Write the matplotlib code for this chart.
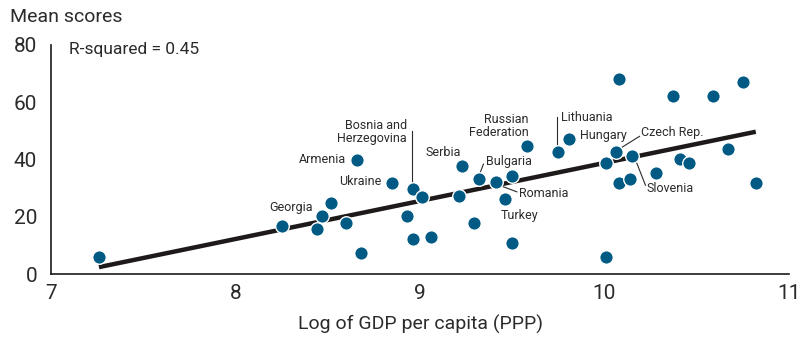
import matplotlib
matplotlib.use("Agg")
import matplotlib.pyplot as plt

# log GDP per capita (PPP) vs mean score, one point per country
gdp_log = [7.26, 8.25, 8.44, 8.47, 8.52, 8.60, 8.68, 8.66, 8.85, 8.96,
           9.01, 8.93, 8.96, 9.06, 9.23, 9.21, 9.29, 9.32, 9.41, 9.50,
           9.46, 9.50, 9.58, 9.75, 9.81, 10.08, 10.37, 10.59, 10.75, 10.06,
           10.01, 10.15, 10.08, 10.14, 10.28, 10.41, 10.46, 10.67, 10.82, 10.01]
scores = [6.1, 16.6, 15.6, 20.1, 24.7, 17.9, 7.2, 39.9, 31.9, 29.6,
          27.0, 20.1, 12.1, 13.1, 37.8, 27.1, 17.8, 33.1, 32.0, 34.3,
          26.1, 10.8, 44.8, 42.5, 47.1, 68.1, 62.3, 62.3, 67.0, 42.5,
          38.9, 41.3, 31.9, 33.1, 35.4, 40.1, 38.9, 43.6, 31.9, 6.0]

# fitted trend line end points
fit_x = [7.26, 10.82]
fit_y = [2.4, 49.7]
r_squared = 0.45

ink = "#2b2b2b"
dot = "#005a83"

# country labels: text, position, alignment
labels = [
    ("Georgia", 8.42, 23.4, "right"),
    ("Armenia", 8.60, 40.0, "right"),
    ("Ukraine", 8.79, 32.3, "right"),
    ("Bosnia and\nHerzegovina", 8.93, 49.7, "right"),
    ("Serbia", 9.22, 42.5, "right"),
    ("Bulgaria", 9.36, 39.3, "left"),
    ("Russian\nFederation", 9.59, 51.7, "right"),
    ("Lithuania", 9.765, 54.5, "left"),
    ("Hungary", 9.865, 48.5, "left"),
    ("Czech Rep.", 10.20, 49.5, "left"),
    ("Slovenia", 10.225, 29.8, "left"),
    ("Romania", 9.535, 28.1, "left"),
    ("Turkey", 9.44, 20.6, "left"),
]
# leader lines from label to dot
leaders = [
    ((8.957, 8.957), (49.8, 30.6)),
    ((9.344, 9.321), (38.4, 34.5)),
    ((9.745, 9.745), (54.8, 42.9)),
    ((10.063, 10.190), (43.0, 48.1)),
    ((10.163, 10.222), (40.7, 31.0)),
    ((9.417, 9.525), (31.3, 28.7)),
]

plt.rcParams["font.family"] = ["Roboto", "DejaVu Sans"]

fig = plt.figure(figsize=(8.06, 3.39), dpi=100)
ax = fig.add_axes([51 / 806, 65 / 339, (789 - 51) / 806, (274 - 45) / 339])

ax.plot(fit_x, fit_y, color="#1e1a1a", linewidth=3.2, solid_capstyle="butt", zorder=2)
ax.scatter(gdp_log, scores, s=95, color=dot, edgecolors="white", linewidths=1.0, zorder=3)

for xs, ys in leaders:
    ax.plot(xs, ys, color=ink, linewidth=0.8, zorder=2)

for text, lx, ly, ha in labels:
    ax.text(lx, ly, text, ha=ha, va="center", multialignment=ha,
            fontsize=9, color=ink, linespacing=1.0, zorder=4)

ax.text(7.1, 78.5, f"R-squared = {r_squared:.2f}", ha="left", va="center",
        fontsize=12.5, color=ink)

ax.set_xlim(7, 11)
ax.set_ylim(0, 80)
ax.set_xticks([7, 8, 9, 10, 11])
ax.set_yticks([0, 20, 40, 60, 80])
ax.tick_params(length=0, labelsize=15, colors=ink, pad=7)
ax.tick_params(axis="y", pad=10)
for side in ("top", "right"):
    ax.spines[side].set_visible(False)
for side in ("left", "bottom"):
    ax.spines[side].set_color("#1e1a1a")
    ax.spines[side].set_linewidth(1.2)

ax.set_xlabel("Log of GDP per capita (PPP)", fontsize=14, color=ink, labelpad=9)
fig.text(10 / 806, 1 - 17 / 339, "Mean scores", fontsize=14, color=ink,
         ha="left", va="center")

fig.savefig("out.png", dpi=100)
